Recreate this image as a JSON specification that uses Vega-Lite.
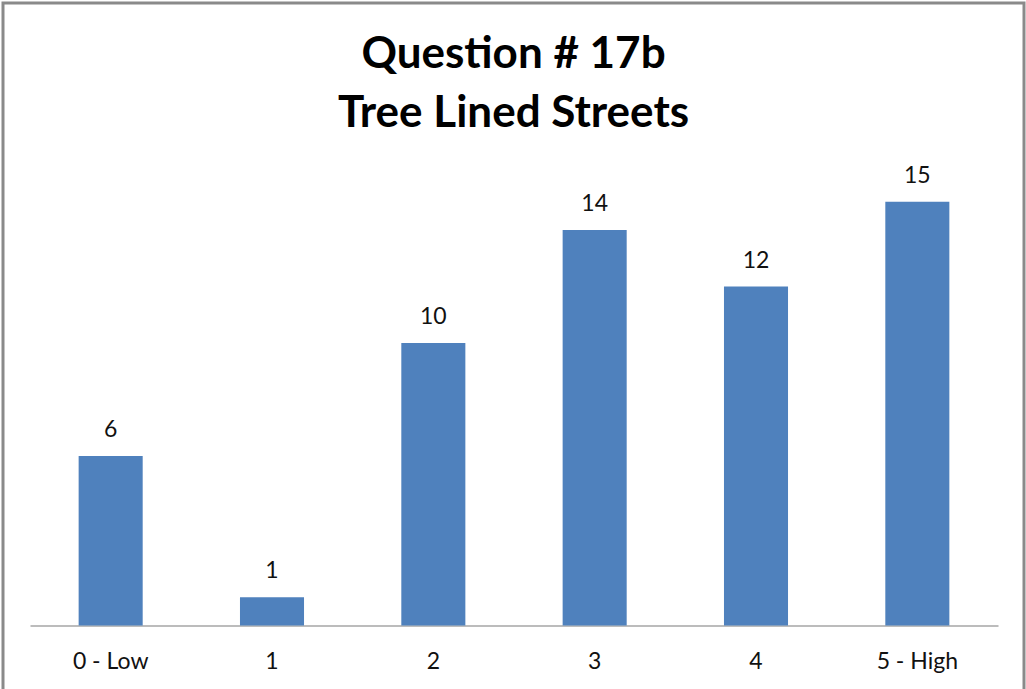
{
  "$schema": "https://vega.github.io/schema/vega-lite/v6.json",
  "autosize": "none",
  "width": 1021,
  "height": 689,
  "padding": {"left": 3, "top": 3, "right": 2, "bottom": 0},
  "background": "#ffffff",
  "title": {
    "text": ["Question # 17b", "Tree Lined Streets"],
    "font": "Lato",
    "fontWeight": "bold",
    "fontSize": 44,
    "color": "#000000",
    "anchor": "middle",
    "baseline": "alphabetic",
    "lineHeight": 59,
    "offset": -168
  },
  "config": {
    "view": {"stroke": "#8a8a8a", "strokeWidth": 3}
  },
  "data": {
    "values": [
      {"rating": "0 - Low", "count": 6},
      {"rating": "1", "count": 1},
      {"rating": "2", "count": 10},
      {"rating": "3", "count": 14},
      {"rating": "4", "count": 12},
      {"rating": "5 - High", "count": 15}
    ]
  },
  "encoding": {
    "x": {
      "field": "rating",
      "type": "nominal",
      "sort": null,
      "scale": {"range": [27, 995], "paddingInner": 0.603, "paddingOuter": 0.3015},
      "axis": {
        "title": null,
        "labelAngle": 0,
        "ticks": false,
        "offset": -66.5,
        "domainColor": "#a6a6a6",
        "domainWidth": 1.5,
        "labelFont": "Lato",
        "labelFontSize": 23,
        "labelColor": "#111111",
        "labelPadding": 25
      }
    },
    "y": {
      "field": "count",
      "type": "quantitative",
      "scale": {"domain": [0, 15], "range": [622.5, 198.75], "nice": false, "zero": true},
      "axis": null
    }
  },
  "layer": [
    {"mark": {"type": "bar", "color": "#4F81BD"}},
    {
      "mark": {"type": "text", "font": "Lato", "fontSize": 23, "color": "#111111", "baseline": "alphabetic", "dy": -19},
      "encoding": {"text": {"field": "count", "type": "quantitative"}}
    }
  ]
}
